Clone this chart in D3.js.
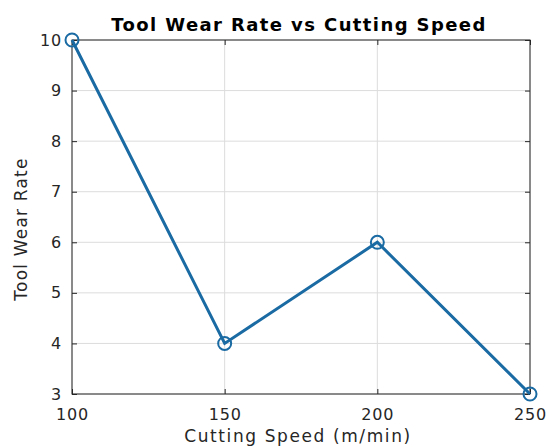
<!DOCTYPE html>
<html>
<head>
<meta charset="utf-8">
<script src="https://cdn.jsdelivr.net/npm/d3@7"></script>
<style>
  html, body { margin: 0; padding: 0; background: #fff; }
  svg { display: block; font-family: "DejaVu Sans", sans-serif; }
</style>
</head>
<body>
<svg id="chart" width="547" height="448"></svg>
<script>
// Cutting speed (m/min) and measured tool wear rate
const speeds = [100, 150, 200, 250];
const wearRates = [10, 4, 6, 3];
const xTicks = [100, 150, 200, 250];
const yTicks = [3, 4, 5, 6, 7, 8, 9, 10];

const W = 547, H = 448;
const m = { left: 72, right: 17, top: 40, bottom: 54 };
const iw = W - m.left - m.right, ih = H - m.top - m.bottom;

const svg = d3.select("#chart");
const g = svg.append("g").attr("transform", `translate(${m.left},${m.top})`);

const x = d3.scaleLinear().domain([100, 250]).range([0, iw]);
const y = d3.scaleLinear().domain([3, 10]).range([ih, 0]);

// grid lines
g.append("g").selectAll("line").data(xTicks).join("line")
  .attr("x1", d => x(d)).attr("x2", d => x(d)).attr("y1", 0).attr("y2", ih)
  .attr("stroke", "#dcdcdc").attr("stroke-width", 1);
g.append("g").selectAll("line").data(yTicks).join("line")
  .attr("x1", 0).attr("x2", iw).attr("y1", d => y(d)).attr("y2", d => y(d))
  .attr("stroke", "#dcdcdc").attr("stroke-width", 1);

// axes with inward ticks on all four sides
const fmt = d3.format("d");
const xAxis = g.append("g").attr("transform", `translate(0,${ih})`)
  .call(d3.axisBottom(x).tickValues(xTicks).tickSize(-5).tickPadding(15).tickFormat(fmt));
const yAxis = g.append("g")
  .call(d3.axisLeft(y).tickValues(yTicks).tickSize(-5).tickPadding(10).tickFormat(fmt));
const xTop = g.append("g")
  .call(d3.axisTop(x).tickValues(xTicks).tickSize(-5).tickFormat(""));
const yRight = g.append("g").attr("transform", `translate(${iw},0)`)
  .call(d3.axisRight(y).tickValues(yTicks).tickSize(-5).tickFormat(""));
[xAxis, yAxis, xTop, yRight].forEach(a => {
  a.select(".domain").remove();
  a.selectAll("line").attr("stroke", "#262626");
  a.selectAll("text").attr("fill", "#262626").style("font-size", "16px")
    .style("letter-spacing", "0.8px")
    .style("font-family", "'DejaVu Sans', sans-serif");
});

// box
g.append("rect").attr("x", 0).attr("y", 0).attr("width", iw).attr("height", ih)
  .attr("fill", "none").attr("stroke", "#262626").attr("stroke-width", 1);

// data line and markers
const lineColor = "#1a6aa3";
const pts = speeds.map((s, i) => [s, wearRates[i]]);
g.append("path").datum(pts)
  .attr("d", d3.line().x(d => x(d[0])).y(d => y(d[1])))
  .attr("fill", "none").attr("stroke", lineColor).attr("stroke-width", 3);
g.selectAll("circle").data(pts).join("circle")
  .attr("cx", d => x(d[0])).attr("cy", d => y(d[1])).attr("r", 6.5)
  .attr("fill", "none").attr("stroke", lineColor).attr("stroke-width", 2);

// title and axis labels
svg.append("text").attr("x", 299).attr("y", 31).attr("text-anchor", "middle")
  .style("font-size", "18px").style("font-weight", "bold").style("letter-spacing", "1.4px")
  .attr("fill", "#000")
  .text("Tool Wear Rate vs Cutting Speed");
svg.append("text").attr("x", 298).attr("y", 442).attr("text-anchor", "middle")
  .style("font-size", "17px").style("letter-spacing", "1.6px").attr("fill", "#262626")
  .text("Cutting Speed (m/min)");
svg.append("text").attr("transform", `translate(27,229) rotate(-90)`)
  .attr("text-anchor", "middle").style("font-size", "17px").style("letter-spacing", "1.2px")
  .attr("fill", "#262626")
  .text("Tool Wear Rate");
</script>
</body>
</html>
